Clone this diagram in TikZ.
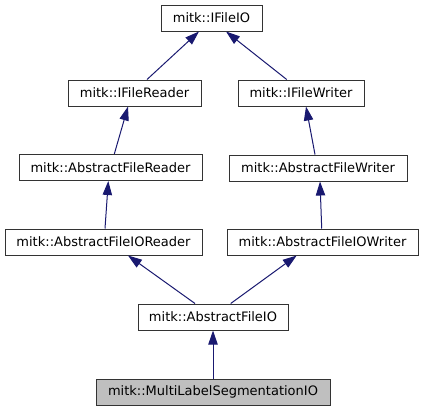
\documentclass[tikz,border=0pt]{standalone}
\usepackage{fontspec}
\setmainfont{DejaVu Sans}
\usetikzlibrary{arrows.meta, calc}

\definecolor{edgeblue}{HTML}{191970}
\definecolor{boxline}{HTML}{333333}

\begin{document}
\begin{tikzpicture}[x=0.75pt, y=-0.75pt,
	cls/.style={rectangle, draw=boxline, line width=0.75pt, fill=white, inner sep=0pt, minimum height=19.5pt, font=\fontsize{9.75}{11}\selectfont},
	focus/.style={cls, fill=black!25},
	inherit/.style={draw=edgeblue, line width=0.75pt, -{Triangle[length=10.5pt, width=7pt]}, edgeblue},
	]
	\useasboundingbox (0,0) rectangle (423,411);

	\node[cls, minimum width=75.75pt] (IO) at (211.5,18) {mitk::IFileIO};
	\node[cls, minimum width=99.75pt] (Reader) at (134.5,93) {mitk::IFileReader};
	\node[cls, minimum width=94.5pt] (Writer) at (301,93) {mitk::IFileWriter};
	\node[cls, minimum width=137.25pt] (AbsReader) at (110.5,167.5) {mitk::AbstractFileReader};
	\node[cls, minimum width=133.5pt] (AbsWriter) at (318,168) {mitk::AbstractFileWriter};
	\node[cls, minimum width=147.75pt] (AbsIOReader) at (103.5,242) {mitk::AbstractFileIOReader};
	\node[cls, minimum width=143.25pt] (AbsIOWriter) at (322.5,242) {mitk::AbstractFileIOWriter};
	\node[cls, minimum width=112.5pt] (AbsIO) at (213,317) {mitk::AbstractFileIO};
	\node[focus, minimum width=175.5pt] (MultiLabel) at (213,392) {mitk::MultiLabelSegmentationIO};

	\draw[inherit] ($(Reader.north)+(12.5,0)$) -- ($(IO.south)+(-12.5,0)$);
	\draw[inherit] ($(Writer.north)+(-14.3,0)$) -- ($(IO.south)+(14.5,0)$);
	\draw[inherit] ($(AbsReader.north)+(3.8,0)$) -- ($(Reader.south)+(-6.5,0)$);
	\draw[inherit] ($(AbsWriter.north)+(-3,0)$) -- ($(Writer.south)+(5,0)$);
	\draw[inherit] ($(AbsIOReader.north)+(1.5,0)$) -- ($(AbsReader.south)+(-2.2,0)$);
	\draw[inherit] ($(AbsIOWriter.north)+(-0.8,0)$) -- ($(AbsWriter.south)+(2,0)$);
	\draw[inherit] ($(AbsIO.north)+(-18,0)$) -- ($(AbsIOReader.south)+(24.5,0)$);
	\draw[inherit] ($(AbsIO.north)+(17.7,0)$) -- ($(AbsIOWriter.south)+(-25.8,0)$);
	\draw[inherit] (MultiLabel) -- (AbsIO);
\end{tikzpicture}
\end{document}
